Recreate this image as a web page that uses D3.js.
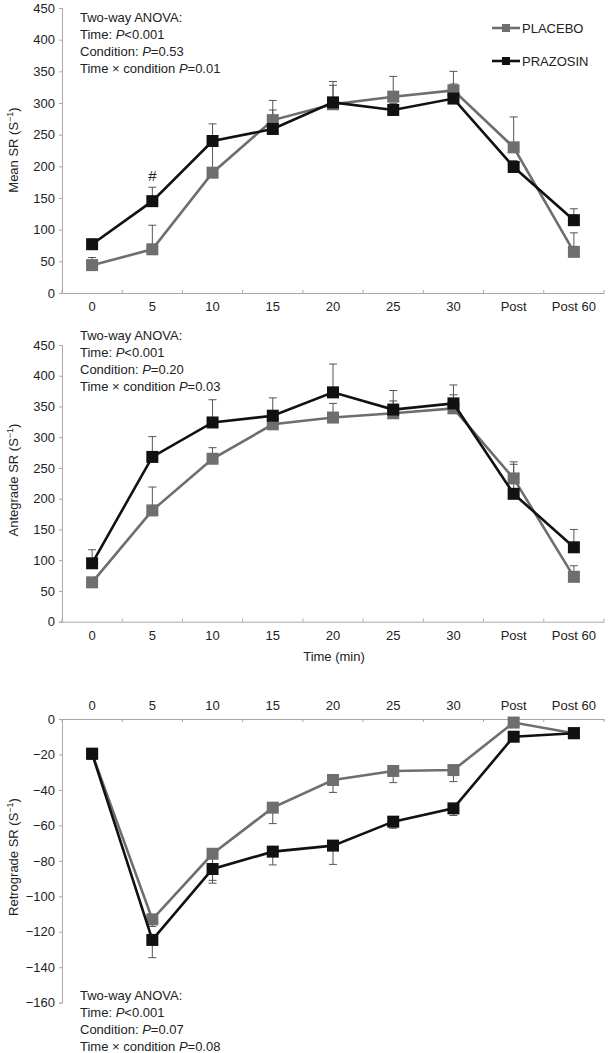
<!DOCTYPE html>
<html><head><meta charset="utf-8">
<script src="https://cdn.jsdelivr.net/npm/d3@7"></script>
<style>body{margin:0;background:#fff}svg{display:block}text{font-family:"Liberation Sans",Arial,sans-serif}</style>
</head><body><svg id="c" width="608" height="1053"></svg>
<script>
const categories = ["0","5","10","15","20","25","30","Post","Post 60"];
const seriesNames = ["PLACEBO","PRAZOSIN"];
// Mean SR
const meanPlacebo = [44,69,190,273,298,310,320,230,65];
const meanPlaceboErr = [12,38,45,31,36,32,30,48,30];
const meanPrazosin = [77,145,240,259,301,289,307,199,115];
const meanPrazosinErr = [8,22,27,30,27,10,23,10,18];
// Antegrade SR
const antPlacebo = [64,181,265,321,332,339,347,233,73];
const antPlaceboErr = [8,38,18,10,23,20,22,27,18];
const antPrazosin = [95,268,324,335,373,345,355,208,121];
const antPrazosinErr = [22,33,37,29,46,31,30,48,29];
// Retrograde SR
const retPlacebo = [-19.6,-113,-76,-50,-34.4,-29.3,-28.8,-2,-8];
const retPlaceboErr = [3,4,15,9,7,6.6,6.5,1,1];
const retPrazosin = [-19.6,-124.6,-84.6,-74.8,-71.4,-57.9,-50.4,-10,-8];
const retPrazosinErr = [3,10,8,7.5,10.6,3.7,4,1,1];
const yTicksPos = [0,50,100,150,200,250,300,350,400,450];
const yTicksNeg = [0,-20,-40,-60,-80,-100,-120,-140,-160];

const svg = d3.select("#c");
const cPlacebo = "#6e6e6e", cPrazosin = "#111111", axisCol = "#a8a8a8";
const fs = 13;

const x = d3.scaleBand().domain(categories).range([62,604]);
const xc = d => x(d) + x.bandwidth()/2;

function panel(opts){
  const {y, plac, placErr, praz, prazErr, ticks, xTop, xAxisY, ylabel, ylabelY, annY, errDir} = opts;
  const g = svg.append("g");
  const ya = g.append("g").attr("transform","translate(62,0)")
    .call(d3.axisLeft(y).tickValues(ticks).tickSize(3).tickPadding(4).tickFormat(d => d < 0 ? "\u2212" + Math.abs(d) : d));
  ya.select(".domain").attr("stroke",axisCol);
  ya.selectAll(".tick line").attr("stroke",axisCol);
  ya.selectAll("text").attr("font-size",fs).attr("fill","#222").style("font-family","'Liberation Sans',Arial,sans-serif");
  const xa = g.append("g").attr("transform",`translate(0,${xAxisY})`)
    .call((xTop ? d3.axisTop(x) : d3.axisBottom(x)).tickSize(0).tickPadding(9));
  xa.select(".domain").attr("stroke",axisCol);
  xa.selectAll("text").attr("font-size",fs).attr("fill","#222").style("font-family","'Liberation Sans',Arial,sans-serif");
  const edges = categories.map(c => x(c)).concat([x.range()[1]]);
  g.selectAll(".edge").data(edges).enter().append("line")
    .attr("x1",d=>d).attr("x2",d=>d)
    .attr("y1",xAxisY).attr("y2",xAxisY + (xTop ? 3 : -3))
    .attr("stroke",axisCol);
  const yl = g.append("text").attr("transform",`translate(18,${ylabelY}) rotate(-90)`)
    .attr("text-anchor","middle").attr("font-size",fs).attr("fill","#222");
  yl.append("tspan").text(ylabel + " (S");
  yl.append("tspan").text("\u22121").attr("font-size",9).attr("dy",-5);
  yl.append("tspan").text(")").attr("dy",5);
  const series = [
    {vals: plac, err: placErr, col: cPlacebo},
    {vals: praz, err: prazErr, col: cPrazosin}
  ];
  series.forEach(s => {
    const eg = g.append("g");
    s.vals.forEach((v,i) => {
      const e = v + errDir * s.err[i];
      eg.append("line").attr("x1",xc(categories[i])).attr("x2",xc(categories[i]))
        .attr("y1",y(v)).attr("y2",y(e)).attr("stroke","#555").attr("stroke-width",1);
      eg.append("line").attr("x1",xc(categories[i])-4).attr("x2",xc(categories[i])+4)
        .attr("y1",y(e)).attr("y2",y(e)).attr("stroke","#555").attr("stroke-width",1);
    });
  });
  series.forEach(s => {
    const line = d3.line().x((d,i)=>xc(categories[i])).y(d=>y(d));
    g.append("path").datum(s.vals).attr("d",line).attr("fill","none")
      .attr("stroke",s.col).attr("stroke-width",2.6);
    g.selectAll(null).data(s.vals).enter().append("rect")
      .attr("x",(d,i)=>xc(categories[i])-6).attr("y",d=>y(d)-6)
      .attr("width",12).attr("height",12).attr("fill",s.col);
  });
  opts.ann.forEach((l,i) => {
    const t = g.append("text").attr("x",80).attr("y",annY + i*17).attr("font-size",fs).attr("fill","#222").attr("dy","0.35em");
    l.forEach(part => {
      t.append("tspan").text(part.t).attr("font-style", part.i ? "italic" : null);
    });
  });
  return g;
}

function annLines(c, tc){
  return [
    [{t:"Two-way ANOVA:"}],
    [{t:"Time: "},{t:"P",i:1},{t:"<0.001"}],
    [{t:"Condition: "},{t:"P",i:1},{t:"=" + c}],
    [{t:"Time \u00d7 condition "},{t:"P",i:1},{t:"=" + tc}]
  ];
}

const y1 = d3.scaleLinear().domain([0,450]).range([293,8]);
const p1 = panel({y:y1, plac:meanPlacebo, placErr:meanPlaceboErr, praz:meanPrazosin, prazErr:meanPrazosinErr,
  ticks:yTicksPos, xTop:false, xAxisY:293, ylabel:"Mean SR", ylabelY:150, annY:17, errDir:1,
  ann:annLines("0.53","0.01")});
p1.append("text").attr("x",xc("5")).attr("y",y1(meanPrazosin[1]+meanPrazosinErr[1]) - 6)
  .attr("text-anchor","middle").attr("font-size",15).attr("fill","#222").text("#");

const leg = svg.append("g");
[{n:seriesNames[0], c:cPlacebo, y:28},{n:seriesNames[1], c:cPrazosin, y:61}].forEach(d => {
  leg.append("line").attr("x1",492).attr("x2",520).attr("y1",d.y).attr("y2",d.y).attr("stroke",d.c).attr("stroke-width",2.6);
  leg.append("rect").attr("x",502).attr("y",d.y-4).attr("width",8).attr("height",8).attr("fill",d.c);
  leg.append("text").attr("x",522).attr("y",d.y).attr("dy","0.35em").attr("font-size",fs).attr("fill","#222").text(d.n);
});

const y2 = d3.scaleLinear().domain([0,450]).range([621.7,345]);
panel({y:y2, plac:antPlacebo, placErr:antPlaceboErr, praz:antPrazosin, prazErr:antPrazosinErr,
  ticks:yTicksPos, xTop:false, xAxisY:621.7, ylabel:"Antegrade SR", ylabelY:480, annY:335, errDir:1,
  ann:annLines("0.20","0.03")});
svg.append("text").attr("x",334).attr("y",656).attr("dy","0.35em").attr("text-anchor","middle")
  .attr("font-size",fs).attr("fill","#222").text("Time (min)");

const y3 = d3.scaleLinear().domain([0,-160]).range([719,1002.7]);
panel({y:y3, plac:retPlacebo, placErr:retPlaceboErr, praz:retPrazosin, prazErr:retPrazosinErr,
  ticks:yTicksNeg, xTop:true, xAxisY:719, ylabel:"Retrograde SR", ylabelY:857, annY:995, errDir:-1,
  ann:annLines("0.07","0.08")});
</script></body></html>
